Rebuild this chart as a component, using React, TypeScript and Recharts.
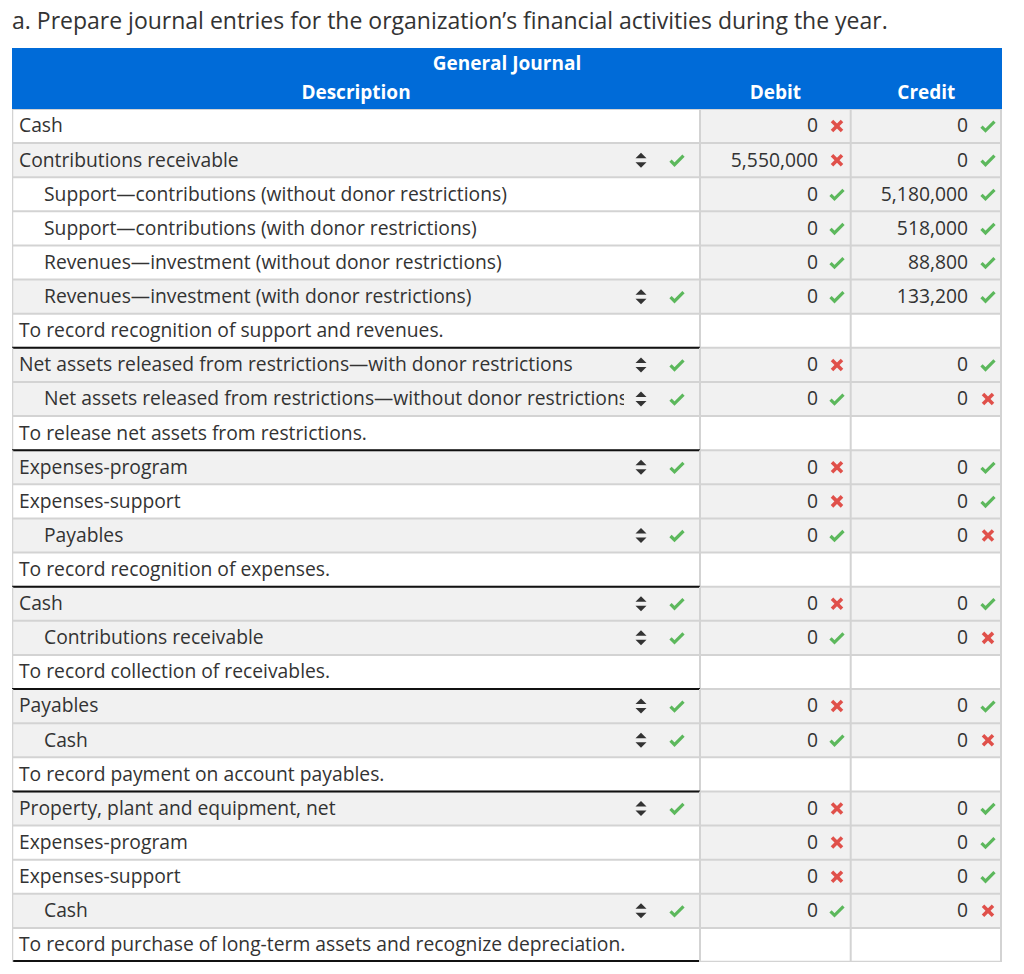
import React from 'react';
import { BarChart, Bar, XAxis, YAxis } from 'recharts';

// journal lines, top to bottom
const rowLabels = [
  'Cash',
  'Contributions receivable',
  'Support—contributions (without donor restrictions)',
  'Support—contributions (with donor restrictions)',
  'Revenues—investment (without donor restrictions)',
  'Revenues—investment (with donor restrictions)',
  'To record recognition of support and revenues.',
  'Net assets released from restrictions—with donor restrictions',
  'Net assets released from restrictions—without donor restrictions',
  'To release net assets from restrictions.',
  'Expenses-program',
  'Expenses-support',
  'Payables',
  'To record recognition of expenses.',
  'Cash',
  'Contributions receivable',
  'To record collection of receivables.',
  'Payables',
  'Cash',
  'To record payment on account payables.',
  'Property, plant and equipment, net',
  'Expenses-program',
  'Expenses-support',
  'Cash',
  'To record purchase of long-term assets and recognize depreciation.',
];

const rowIndent = [0, 0, 1, 1, 1, 1, 0, 0, 1, 0, 0, 0, 1, 0, 0, 1, 0, 0, 1, 0, 0, 0, 0, 1, 0];

// plain = typed text, select = dropdown with check, memo = explanation line
const rowType = [
  'plain', 'select', 'plain', 'plain', 'plain', 'select', 'memo',
  'select', 'select', 'memo',
  'select', 'plain', 'select', 'memo',
  'select', 'select', 'memo',
  'select', 'select', 'memo',
  'select', 'plain', 'plain', 'select', 'memo',
];

const debitValues = [0, 5550000, 0, 0, 0, 0, null, 0, 0, null, 0, 0, 0, null, 0, 0, null, 0, 0, null, 0, 0, 0, 0, null];
const creditValues = [0, 0, 5180000, 518000, 88800, 133200, null, 0, 0, null, 0, 0, 0, null, 0, 0, null, 0, 0, null, 0, 0, 0, 0, null];

const debitMarks = ['x', 'x', 'v', 'v', 'v', 'v', '', 'x', 'v', '', 'x', 'x', 'v', '', 'x', 'v', '', 'x', 'v', '', 'x', 'x', 'x', 'v', ''];
const creditMarks = ['v', 'v', 'v', 'v', 'v', 'v', '', 'v', 'x', '', 'v', 'v', 'x', '', 'v', 'x', '', 'v', 'x', '', 'v', 'v', 'v', 'x', ''];

const rows = rowLabels.map((label, i) => ({
  id: `r${i}`,
  label,
  indent: rowIndent[i],
  type: rowType[i],
  debit: debitValues[i],
  credit: creditValues[i],
  debitMark: debitMarks[i],
  creditMark: creditMarks[i],
}));

const WIDTH = 990;
const HEIGHT = 853;
const ROW_H = HEIGHT / rows.length;
const DESC_W = 688;
const DEBIT_R = 838.7;
const GRID = '#d3d3d3';
const GRAY = '#f1f1f1';
const TEXT = '#333';
const GREEN = '#5cb85c';
const RED = '#e0504a';
const FONT = '"Open Sans", sans-serif';
const FS = 19.3;

const Check = ({ cx, cy }: { cx: number; cy: number }) => (
  <path
    d={`M${cx - 6.5},${cy + 0.5} L${cx - 2.5},${cy + 4.5} L${cx + 6.5},${cy - 4.5}`}
    fill="none"
    stroke={GREEN}
    strokeWidth={3.2}
  />
);

const Cross = ({ cx, cy }: { cx: number; cy: number }) => (
  <g stroke={RED} strokeWidth={3.6}>
    <line x1={cx - 5} y1={cy - 5} x2={cx + 5} y2={cy + 5} />
    <line x1={cx - 5} y1={cy + 5} x2={cx + 5} y2={cy - 5} />
  </g>
);

const Mark = ({ kind, cx, cy }: { kind: string; cx: number; cy: number }) =>
  kind === 'v' ? <Check cx={cx} cy={cy} /> : kind === 'x' ? <Cross cx={cx} cy={cy} /> : null;

const RowTick = (props: any) => {
  const { y, payload } = props;
  const i = rows.findIndex((r) => r.id === payload.value);
  const row = rows[i];
  if (!row) return null;
  const top = y - ROW_H / 2;
  const bottom = y + ROW_H / 2;
  const memo = row.type === 'memo';
  const descFill = row.type === 'select' ? GRAY : '#fff';
  const cellFill = memo ? '#fff' : GRAY;
  const prevMemo = i > 0 && rows[i - 1].type === 'memo';
  const fmt = (v: number | null) => (v === null ? '' : v.toLocaleString('en-US'));
  return (
    <g>
      <rect x={0} y={top} width={DESC_W} height={ROW_H} fill={descFill} />
      <rect x={DESC_W} y={top} width={DEBIT_R - DESC_W} height={ROW_H} fill={cellFill} />
      <rect x={DEBIT_R} y={top} width={WIDTH - DEBIT_R} height={ROW_H} fill={cellFill} />
      <clipPath id={`clip-${row.id}`}>
        <rect x={0} y={top} width={row.type === 'select' ? 612 : DESC_W} height={ROW_H} />
      </clipPath>
      <text
        x={row.indent ? 32 : 7}
        y={y}
        dy="0.33em"
        fontSize={FS}
        fill={TEXT}
        fontFamily={FONT}
        clipPath={`url(#clip-${row.id})`}
      >
        {row.label}
      </text>
      {row.type === 'select' && (
        <g>
          <path d={`M${623.5},${y - 2} L${634.5},${y - 2} L${629},${y - 7.5} Z`} fill={TEXT} />
          <path d={`M${623.5},${y + 2} L${634.5},${y + 2} L${629},${y + 7.5} Z`} fill={TEXT} />
          <Check cx={665} cy={y} />
        </g>
      )}
      <text x={806} y={y} dy="0.33em" fontSize={FS} fill={TEXT} fontFamily={FONT} textAnchor="end">
        {fmt(row.debit)}
      </text>
      <Mark kind={row.debitMark} cx={825} cy={y} />
      <text x={956} y={y} dy="0.33em" fontSize={FS} fill={TEXT} fontFamily={FONT} textAnchor="end">
        {fmt(row.credit)}
      </text>
      <Mark kind={row.creditMark} cx={976} cy={y} />
      {/* borders */}
      <line x1={0} y1={top} x2={WIDTH} y2={top} stroke={GRID} strokeWidth={2} />
      {prevMemo && <line x1={0} y1={top} x2={DESC_W} y2={top} stroke="#111" strokeWidth={2} />}
      {i === rows.length - 1 && (
        <g>
          <line x1={DESC_W} y1={bottom - 0.5} x2={WIDTH} y2={bottom - 0.5} stroke={GRID} strokeWidth={1.5} />
          <line x1={0} y1={bottom - 1} x2={DESC_W} y2={bottom - 1} stroke="#111" strokeWidth={2} />
        </g>
      )}
      <line x1={0.5} y1={top} x2={0.5} y2={bottom} stroke={GRID} strokeWidth={1.5} />
      <line x1={DESC_W} y1={top} x2={DESC_W} y2={bottom} stroke={GRID} strokeWidth={2} />
      <line x1={DEBIT_R} y1={top} x2={DEBIT_R} y2={bottom} stroke={GRID} strokeWidth={2} />
      <line x1={WIDTH - 1} y1={top} x2={WIDTH - 1} y2={bottom} stroke={GRID} strokeWidth={2} />
    </g>
  );
};

const headStyle: React.CSSProperties = {
  position: 'absolute',
  color: '#fff',
  fontWeight: 700,
  fontSize: 19,
  lineHeight: '24px',
  textAlign: 'center',
};

export default function App() {
  return (
    <div style={{ fontFamily: FONT, width: 1008 }}>
      <div style={{ height: 40, marginLeft: 4, fontSize: 23, lineHeight: '24px', color: TEXT }}>
        a. Prepare journal entries for the organization’s financial activities during the year.
      </div>
      <div style={{ position: 'relative', marginLeft: 4, width: WIDTH, height: 61, background: '#006bd8' }}>
        <div style={{ ...headStyle, left: 0, width: WIDTH, top: 3 }}>General Journal</div>
        <div style={{ ...headStyle, left: 0, width: DESC_W, top: 32 }}>Description</div>
        <div style={{ ...headStyle, left: DESC_W, width: DEBIT_R - DESC_W, top: 32 }}>Debit</div>
        <div style={{ ...headStyle, left: DEBIT_R, width: WIDTH - DEBIT_R, top: 32 }}>Credit</div>
      </div>
      <div style={{ marginLeft: 4 }}>
        <BarChart
          layout="vertical"
          width={WIDTH}
          height={HEIGHT}
          data={rows}
          margin={{ top: 0, right: 0, bottom: 0, left: 0 }}
        >
          <XAxis type="number" hide domain={[0, 'dataMax']} />
          <YAxis
            type="category"
            dataKey="id"
            width={1}
            interval={0}
            tickLine={false}
            axisLine={false}
            tick={<RowTick />}
          />
          <Bar dataKey="debit" fill="none" isAnimationActive={false} />
        </BarChart>
      </div>
    </div>
  );
}
